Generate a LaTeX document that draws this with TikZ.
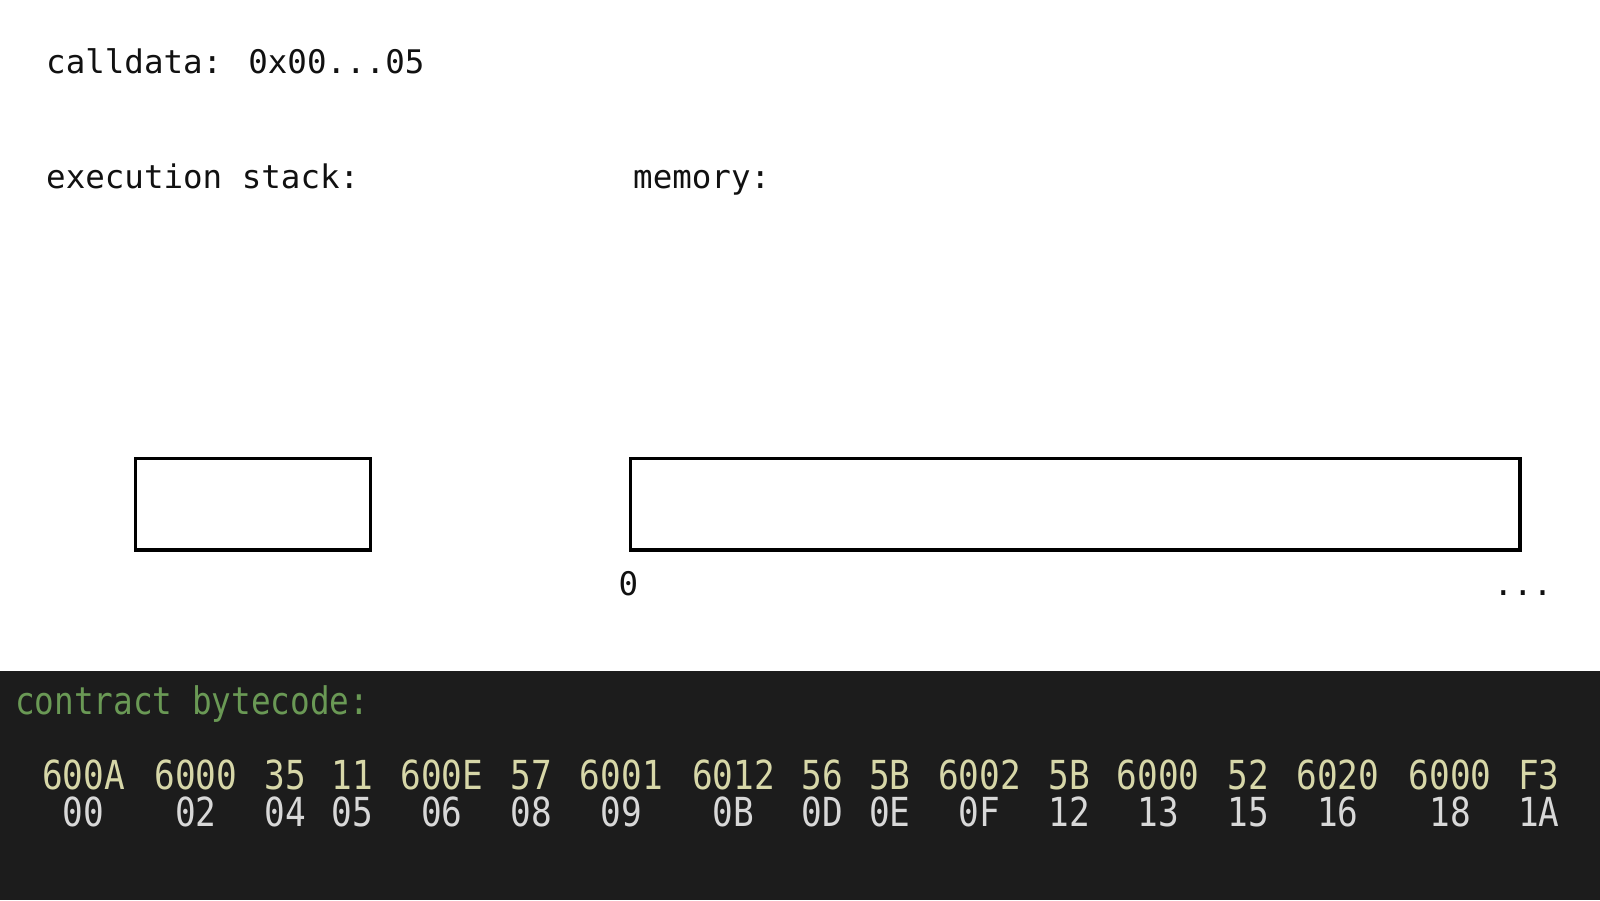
\documentclass[tikz,border=0pt]{standalone}
\usepackage{fontspec}
\newfontfamily\topmono{DejaVu Sans Mono}
\newfontfamily\botmono[FakeStretch=0.86]{DejaVu Sans Mono}
\definecolor{bandbg}{HTML}{1C1C1C}
\definecolor{codegreen}{HTML}{6A9955}
\definecolor{codeyellow}{HTML}{D7D7A8}
\definecolor{codegray}{HTML}{D8D8D8}
\definecolor{inkblack}{HTML}{111111}
\begin{document}
\begin{tikzpicture}[x=1pt,y=-1pt,
  toplabel/.style={anchor=base west,inner sep=0pt,text=inkblack,font=\topmono\fontsize{32.5}{40}\selectfont},
  memlabel/.style={anchor=base,inner sep=0pt,text=inkblack,font=\topmono\fontsize{32.5}{40}\selectfont},
  cellbox/.style={draw=black,line width=3.5pt},
  headlabel/.style={anchor=base west,inner sep=0pt,text=codegreen,font=\botmono\fontsize{38}{44}\selectfont},
  tok/.style={anchor=base,inner sep=0pt,text=codeyellow,font=\botmono\fontsize{40}{44}\selectfont},
  offs/.style={anchor=base,inner sep=0pt,text=codegray,font=\botmono\fontsize{40}{44}\selectfont}]
\useasboundingbox (0,0) rectangle (1600,900);
\fill[white] (0,0) rectangle (1600,671);
\fill[bandbg] (0,671) rectangle (1600,900);

\node[toplabel] (calldata) at (46,73.5) {calldata: 0x00...05};
\node[toplabel] (stacklbl) at (46,188.5) {execution stack:};
\node[toplabel] (memlbl) at (633,188.5) {memory:};

\draw[cellbox] (135.5,458.5) rectangle (370.5,550) node[inner sep=0pt] (stackbox) {};
\draw[cellbox] (630.5,458.5) rectangle (1520,550) node[inner sep=0pt] (membox) {};

\node[memlabel] (zero) at (628.5,595) {0};
\node[memlabel] (dots) at (1523,595) {...};

\node[headlabel] (head) at (15,714) {contract bytecode:};

\foreach \x/\t/\o [count=\i] in {83.7/600A/00, 195.9/6000/02, 285.7/35/04, 352.0/11/05,
  441.8/600E/06, 531.6/57/08, 621.4/6001/09, 733.7/6012/0B, 822.4/56/0D, 889.8/5B/0E,
  979.6/6002/0F, 1069.4/5B/12, 1158.2/6000/13, 1248.0/52/15, 1337.8/6020/16,
  1450.0/6000/18, 1538.8/F3/1A}{
  \node[tok] (b\i) at (\x,789) {\t};
  \node[offs] (o\i) at ([yshift=-37.5pt]b\i.base) {\o};
}
\end{tikzpicture}
\end{document}
